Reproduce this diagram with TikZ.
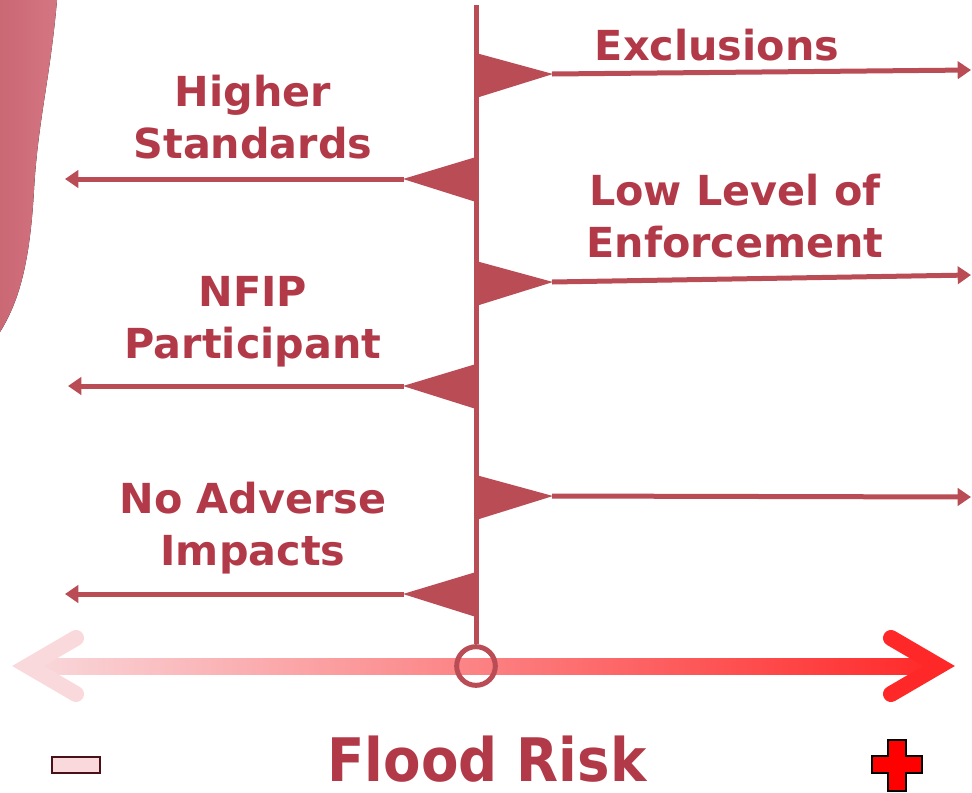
\documentclass[tikz,border=0pt]{standalone}
\usepackage{fontspec}
\setmainfont{DejaVu Sans}
\usetikzlibrary{arrows.meta}
\definecolor{riskred}{RGB}{186,76,86}
\definecolor{labelred}{RGB}{178,58,72}
\definecolor{palepink}{RGB}{249,217,220}
\definecolor{midpink}{RGB}{252,160,163}
\definecolor{hotred}{RGB}{255,40,40}
\definecolor{blobpink}{RGB}{212,118,130}
\definecolor{blobdark}{RGB}{202,104,116}
\definecolor{minusedge}{RGB}{74,16,24}

\begin{document}
\begin{tikzpicture}[x=0.75pt,y=-0.75pt,
    branch/.style={riskred,line width=3.75pt,-{Triangle[length=10pt,width=13pt]}},
    chevron/.style={line width=12pt,line cap=round,line join=miter},
    lbl/.style={text=labelred,font=\fontsize{31}{39}\selectfont\bfseries,align=center}]
  \useasboundingbox (0,0) rectangle (972,793);
  \fill[left color=blobdark,right color=blobpink] (0,0) -- (57,0)
    .. controls (50,80) and (38,120) .. (34,190)
    .. controls (30,260) and (20,300) .. (0,332) -- cycle;
  % risk axis
  \fill[left color=palepink,middle color=midpink,right color=hotred] (28,658) rectangle (939,674);
  \draw[chevron,palepink] (76,638) -- (28,666) -- (76,694);
  \draw[chevron,hotred] (891,638) -- (939,666) -- (891,694);
  \node[circle,draw=riskred,line width=3.75pt,minimum size=29pt,inner sep=0pt] (origin) at (476,666) {};
  \coordinate (top) at (476,5);
  \draw[riskred,line width=3.75pt] (top) -- (origin.north);
  % branches
  \foreach \n/\ay/\ey in {1/74/70,2/282/275,3/496/497}{
    \fill[riskred] (476,\ay-21) -- (553,\ay) -- (476,\ay+24) -- cycle;
    \coordinate (rflag\n) at (552,\ay); \coordinate (rend\n) at (971,\ey);
    \draw[branch] (rflag\n) -- (rend\n);}
  \foreach \n/\ay/\ex in {1/179/65,2/386/68,3/594/65}{
    \fill[riskred] (476,\ay-22) -- (403,\ay) -- (476,\ay+23) -- cycle;
    \coordinate (lflag\n) at (404,\ay); \coordinate (lend\n) at (\ex,\ay);
    \draw[branch] (lflag\n) -- (lend\n);}
  \node[lbl] (exclusions) at (717,45) {Exclusions};
  \node[lbl] (higher) at (253,117) {Higher\\Standards};
  \node[lbl] (enforce) at (735,216) {Low Level of\\Enforcement};
  \node[lbl] (nfip) at (253,322) {NFIP\\Participant};
  \node[lbl] (noadverse) at (253,528) {No Adverse\\Impacts};
  % scale labels
  \node[text=labelred,font=\fontsize{45}{50}\selectfont\bfseries,anchor=base,inner sep=0pt] (floodrisk) at (487,781)
    {\scalebox{0.91}[1]{Flood Risk}};
  \node[draw=minusedge,fill=palepink,line width=1.5pt,minimum width=36pt,minimum height=12pt,inner sep=0pt] (minus) at (76,765) {};
  \begin{scope}[shift={(897,765)}]
    \draw[black,line width=2pt,fill=red] (-9,-25) -- (9,-25) -- (9,-9) -- (25,-9) -- (25,8) -- (9,8)
      -- (9,26) -- (-9,26) -- (-9,8) -- (-25,8) -- (-25,-9) -- (-9,-9) -- cycle;
  \end{scope}
\end{tikzpicture}
\end{document}
